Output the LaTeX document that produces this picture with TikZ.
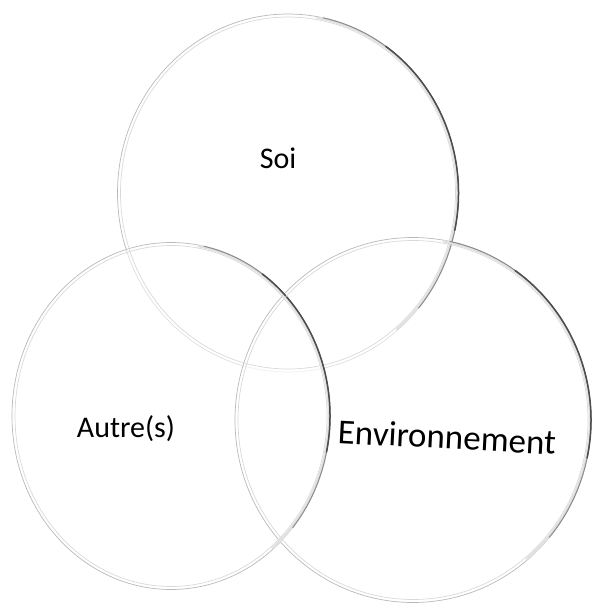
\documentclass[tikz,border=0pt]{standalone}
\usepackage{fontspec}
\setmainfont{Carlito}
\usetikzlibrary{shapes.geometric}

\tikzset{
  disc/.style={ellipse,fill=white,fill opacity=0.55,draw=gray!55,line width=0.7pt,inner sep=0pt},
  word/.style={font=\fontsize{30}{36}\selectfont,text=black},
}
% inner ring and shaded right-hand rim of a disc
\newcommand{\glassrim}[3]{%
  \draw[gray!30,line width=0.7pt] (#1.center) ellipse[x radius=#2-3,y radius=#3-3];
  \draw[black!12,line width=2.5pt,line cap=round] (#1.center) ++(80:#2-1 and #3-1) arc[start angle=80,end angle=-50,x radius=#2-1,y radius=#3-1];
  \draw[black!45,line width=1pt,line cap=round] (#1.center) ++(78:#2 and #3) arc[start angle=78,end angle=-40,x radius=#2,y radius=#3];
  \draw[black!70,line width=1.5pt,line cap=round] (#1.center) ++(55:#2 and #3) arc[start angle=55,end angle=-12,x radius=#2,y radius=#3];
}

\begin{document}
\begin{tikzpicture}[x=1pt,y=1pt]
    \useasboundingbox (0,0) rectangle (592,-608);

    \node[disc,minimum width=341pt,minimum height=358pt] (soi) at (288,-193) {} ;
    \node[disc,minimum width=318pt,minimum height=347pt] (autres) at (171,-416) {} ;
    \node[disc,minimum width=356pt,minimum height=365pt] (env) at (413,-420) {} ;

    \glassrim{soi}{170.5}{179}
    \glassrim{autres}{159}{173.5}
    \glassrim{env}{178}{182.5}

    \node[word] (soi_txt) at (278,-158) {Soi} ;
    \node[word] (autres_txt) at (126,-429) {Autre(s)} ;
    \node[word,font=\fontsize{35}{41}\selectfont,rotate=-3] (env_txt) at (447,-437) {Environnement} ;
\end{tikzpicture}
\end{document}
